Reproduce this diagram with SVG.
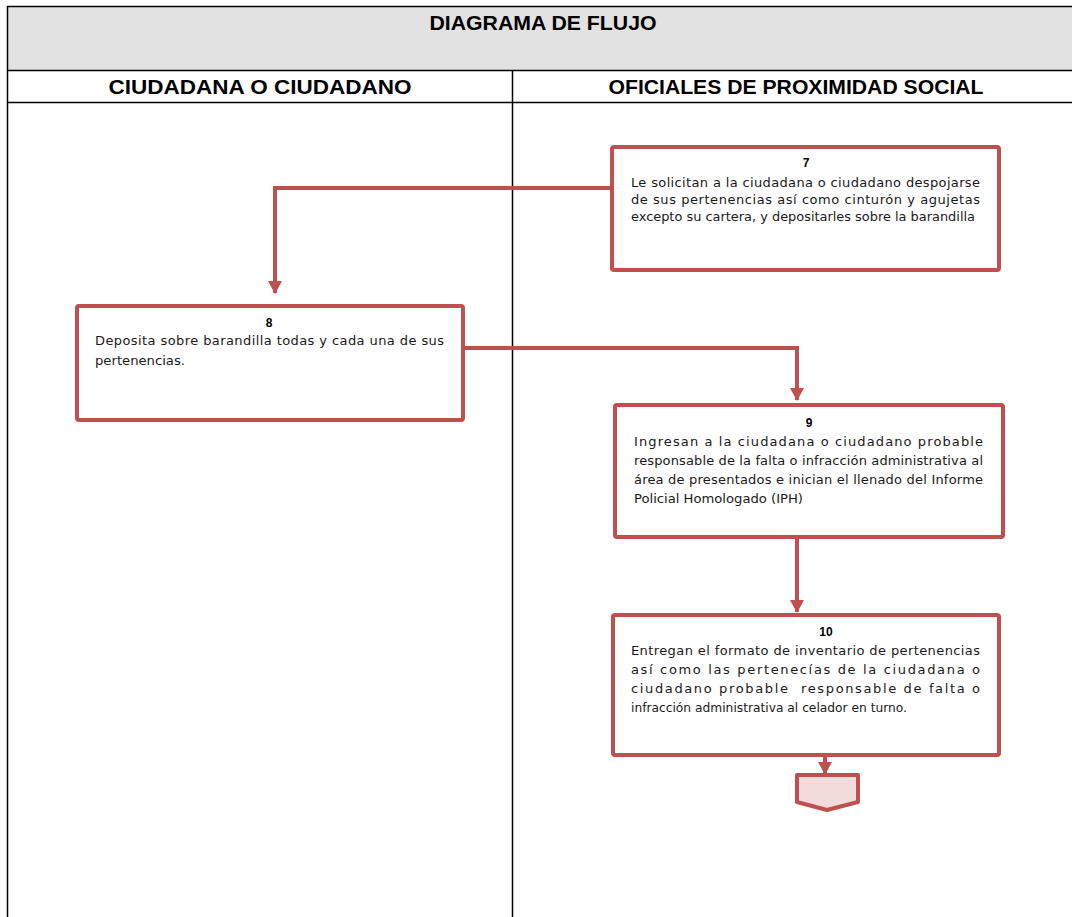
<svg xmlns="http://www.w3.org/2000/svg" width="1072" height="917" viewBox="0 0 1072 917">
<style>
.grid{stroke:#000;stroke-width:1.5;fill:none}
.hdr{font-family:"Liberation Sans",Arial,sans-serif;font-weight:bold;font-size:20px;fill:#000;text-anchor:middle}
.box{fill:#fff;stroke:#C0504D;stroke-width:4}
.num{font-family:"Liberation Sans",Arial,sans-serif;font-weight:bold;font-size:12px;fill:#000;text-anchor:middle}
.txt{font-family:"DejaVu Sans","Liberation Sans",sans-serif;font-size:13px;fill:#1a1a1a}
.conn{fill:none;stroke:#C0504D;stroke-width:4}
</style>
<defs>
<marker id="ah" markerUnits="userSpaceOnUse" markerWidth="16" markerHeight="14" refX="12" refY="7" orient="auto">
<path d="M0,0 L13,7 L0,14 Z" fill="#C0504D"/>
</marker>
</defs>
<rect width="1072" height="917" fill="#fff"/>
<g id="table">
<rect x="7.5" y="6.5" width="1066" height="64" fill="#E2E2E2"/>
<path class="grid" d="M7.5,917 V6.5 H1072 M7.5,70.5 H1072 M7.5,102.5 H1072 M512.5,70.5 V917"/>
<text class="hdr" x="543" y="30" textLength="227" lengthAdjust="spacingAndGlyphs">DIAGRAMA DE FLUJO</text>
<text class="hdr" x="260" y="94" textLength="303" lengthAdjust="spacingAndGlyphs">CIUDADANA O CIUDADANO</text>
<text class="hdr" x="796" y="94" textLength="375" lengthAdjust="spacingAndGlyphs">OFICIALES DE PROXIMIDAD SOCIAL</text>
</g>
<g id="connectors">
<path class="conn" d="M612,188 H275 V293" marker-end="url(#ah)"/>
<path class="conn" d="M463,348 H797 V400" marker-end="url(#ah)"/>
<path class="conn" d="M797,538 V612" marker-end="url(#ah)"/>
<path class="conn" d="M825,757 V774" marker-end="url(#ah)"/>
</g>
<g id="node7">
<rect class="box" x="612" y="147" width="387" height="123" rx="2"/>
<text class="num" x="806" y="167">7</text>
<text class="txt" x="631" y="187" textLength="349" lengthAdjust="spacing">Le solicitan a la ciudadana o ciudadano despojarse</text>
<text class="txt" x="631" y="204" textLength="349" lengthAdjust="spacing">de sus pertenencias así como cinturón y agujetas</text>
<text class="txt" x="631" y="221" textLength="344" lengthAdjust="spacingAndGlyphs">excepto su cartera, y depositarles sobre la barandilla</text>
</g>
<g id="node8">
<rect class="box" x="77" y="306" width="386" height="114" rx="2"/>
<text class="num" x="269" y="327">8</text>
<text class="txt" x="95" y="345" textLength="349" lengthAdjust="spacing">Deposita sobre barandilla todas y cada una de sus</text>
<text class="txt" x="95" y="365" textLength="90" lengthAdjust="spacingAndGlyphs">pertenencias.</text>
</g>
<g id="node9">
<rect class="box" x="615" y="405" width="388" height="132" rx="2"/>
<text class="num" x="809" y="427">9</text>
<text class="txt" x="634" y="446" textLength="349" lengthAdjust="spacing">Ingresan a la ciudadana o ciudadano probable</text>
<text class="txt" x="634" y="465" textLength="349" lengthAdjust="spacing">responsable de la falta o infracción administrativa al</text>
<text class="txt" x="634" y="484" textLength="349" lengthAdjust="spacing">área de presentados e inician el llenado del Informe</text>
<text class="txt" x="634" y="503" textLength="169" lengthAdjust="spacingAndGlyphs">Policial Homologado (IPH)</text>
</g>
<g id="node10">
<rect class="box" x="613" y="615" width="386" height="140" rx="2"/>
<text class="num" x="826" y="636">10</text>
<text class="txt" x="631" y="655" textLength="349" lengthAdjust="spacing">Entregan el formato de inventario de pertenencias</text>
<text class="txt" x="631" y="674" textLength="349" lengthAdjust="spacing">así como las pertenecías de la ciudadana o</text>
<text class="txt" x="631" y="693" textLength="349" lengthAdjust="spacing" xml:space="preserve">ciudadano probable  responsable de falta o</text>
<text class="txt" x="631" y="712" textLength="276" lengthAdjust="spacingAndGlyphs">infracción administrativa al celador en turno.</text>
</g>
<g id="offpage">
<polygon points="797,775 858,775 858,802 827,810 797,802" fill="#F2DCDB" stroke="#C0504D" stroke-width="4" stroke-linejoin="round"/>
</g>
</svg>
